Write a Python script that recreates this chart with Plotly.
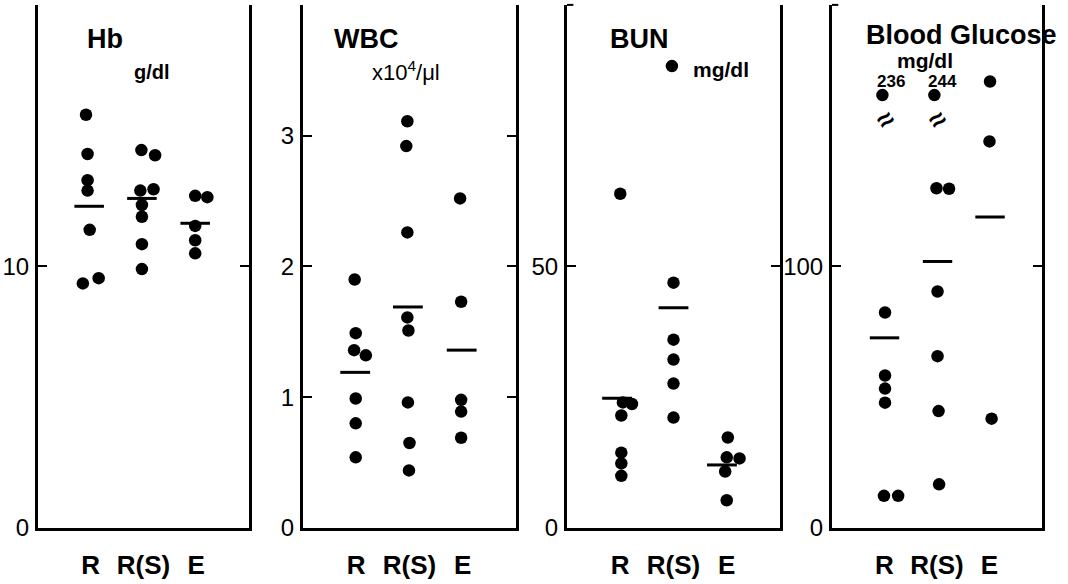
import plotly.graph_objects as go

W, H = 1068, 584

groups = ["R", "R(S)", "E"]

# ---- Hb (g/dl) ----
hb_R = [15.8, 14.3, 13.3, 12.9, 11.4, 9.35, 9.55]
hb_RS = [14.45, 14.25, 12.95, 12.9, 12.35, 11.9, 10.85, 9.9]
hb_E = [12.7, 12.65, 11.55, 11.0, 10.5]
hb_mean = [12.3, 12.6, 11.65]
hb_R_off = [-0.09, -0.06, -0.06, -0.06, -0.02, -0.15, 0.15]
hb_RS_off = [-0.04, 0.22, 0.19, -0.06, -0.03, -0.03, -0.03, -0.03]
hb_E_off = [-0.02, 0.21, -0.02, -0.02, -0.02]
hb_mean_off = [-0.03, -0.03, -0.02]

# ---- WBC (x10^4/ul) ----
wbc_R = [1.90, 1.49, 1.36, 1.32, 0.99, 0.80, 0.54]
wbc_RS = [3.11, 2.92, 2.26, 1.61, 1.51, 0.96, 0.65, 0.44]
wbc_E = [2.52, 1.73, 0.98, 0.89, 0.69]
wbc_mean = [1.19, 1.69, 1.36]
wbc_R_off = [-0.03, -0.01, -0.04, 0.18, -0.01, -0.01, -0.01]
wbc_RS_off = [-0.04, -0.06, -0.04, -0.04, -0.02, -0.03, 0.0, -0.01]
wbc_E_off = [-0.05, -0.03, -0.03, -0.03, -0.03]
wbc_mean_off = [-0.02, -0.03, -0.02]

# ---- BUN (mg/dl) ----
bun_R = [63.9, 24.0, 23.7, 21.5, 14.4, 12.35, 9.97]
bun_RS = [88.3, 46.9, 36.0, 32.2, 27.6, 21.1]
bun_E = [17.3, 13.5, 13.3, 10.8, 5.3]
bun_mean = [24.8, 42.1, 12.05]
bun_R_off = [0.0, 0.05, 0.22, 0.02, 0.02, 0.02, 0.02]
bun_RS_off = [-0.03, 0.0, 0.0, 0.0, 0.0, 0.0]
bun_E_off = [0.02, 0.0, 0.24, -0.03, 0.0]
bun_mean_off = [-0.06, 0.0, -0.09]

# ---- Blood glucose (mg/dl) ----
glu_R = [236, 82.4, 58.3, 53.3, 47.9, 12.3, 12.3]
glu_RS = [244, 129.9, 129.7, 90.4, 65.7, 44.7, 16.7]
glu_E = [170.7, 147.8, 41.8]
glu_mean = [72.7, 101.9, 118.9]
glu_R_off = [-0.04, 0.01, 0.01, 0.01, 0.01, -0.01, 0.26]
glu_RS_off = [-0.05, -0.01, 0.23, 0.01, 0.01, 0.03, 0.04]
glu_E_off = [0.01, 0.0, 0.04]
glu_mean_off = [0.0, 0.01, 0.01]
GLU_AXIS_MAX = 200
GLU_OFFSCALE_Y = 165.5   # where off-scale values are drawn (broken axis)

panels = [
    dict(title="Hb", unit="g/dl", unit_bold=True, unit_size=20, rng=[0, 20], ticks=[0, 10],
         data=[(hb_R, hb_R_off), (hb_RS, hb_RS_off), (hb_E, hb_E_off)],
         mean=hb_mean, mean_off=hb_mean_off,
         dom=(38, 249), title_xy=(105, 40), unit_xy=(152, 74), title_size=27),
    dict(title="WBC", unit="x10<sup>4</sup>/μl", unit_bold=False, unit_size=22,
         rng=[0, 4], ticks=[0, 1, 2, 3],
         data=[(wbc_R, wbc_R_off), (wbc_RS, wbc_RS_off), (wbc_E, wbc_E_off)],
         mean=wbc_mean, mean_off=wbc_mean_off,
         dom=(303, 516), title_xy=(366, 40), unit_xy=(406, 73), title_size=27),
    dict(title="BUN", unit="mg/dl", unit_bold=True, unit_size=21, rng=[0, 100], ticks=[0, 50],
         data=[(bun_R, bun_R_off), (bun_RS, bun_RS_off), (bun_E, bun_E_off)],
         mean=bun_mean, mean_off=bun_mean_off,
         dom=(567, 780), title_xy=(639, 40), unit_xy=(721, 71), title_size=27),
    dict(title="Blood Glucose", unit="mg/dl", unit_bold=True, unit_size=21,
         rng=[0, GLU_AXIS_MAX], ticks=[0, 100],
         data=[(glu_R, glu_R_off), (glu_RS, glu_RS_off), (glu_E, glu_E_off)],
         mean=glu_mean, mean_off=glu_mean_off,
         dom=(832, 1042), title_xy=(961, 36), unit_xy=(925, 62), title_size=27),
]

PLOT_TOP_PX, PLOT_BOT_PX = 5, 540
ydom = [1 - PLOT_BOT_PX / H, 1 - PLOT_TOP_PX / H]

fig = go.Figure()
annotations = []
shapes = []
FONT = "Liberation Sans, Arial, sans-serif"

for i, p in enumerate(panels):
    n = "" if i == 0 else str(i + 1)
    xa, ya = "x" + n, "y" + n
    for gi, (vals, offs) in enumerate(p["data"]):
        xs, ys = [], []
        for v, o in zip(vals, offs):
            xs.append(gi + 1 + o)
            if p["rng"][1] == GLU_AXIS_MAX and v > GLU_AXIS_MAX:
                ys.append(GLU_OFFSCALE_Y)
                annotations.append(dict(x=gi + 1 + o + 0.16, y=GLU_OFFSCALE_Y + 5.2,
                                        xref=xa, yref=ya, text=str(v), showarrow=False,
                                        xanchor="center", yanchor="middle",
                                        font=dict(family=FONT, size=17, color="black", weight="bold")))
                annotations.append(dict(x=gi + 1 + o + 0.06, y=GLU_OFFSCALE_Y - 9.5, xref=xa, yref=ya,
                                        text="≈", showarrow=False, textangle=-35,
                                        xanchor="center", yanchor="middle",
                                        font=dict(family=FONT, size=28, color="black", weight="bold")))
            else:
                ys.append(v)
        fig.add_trace(go.Scatter(x=xs, y=ys, mode="markers", xaxis=xa, yaxis=ya,
                                 marker=dict(size=12.5, color="black"),
                                 showlegend=False, hoverinfo="y"))
    mx, my = [], []
    for gi, (m, o) in enumerate(zip(p["mean"], p["mean_off"])):
        c = gi + 1 + o
        mx += [c - 0.28, c + 0.28, None]
        my += [m, m, None]
    fig.add_trace(go.Scatter(x=mx, y=my, mode="lines", xaxis=xa, yaxis=ya,
                             line=dict(color="black", width=3), showlegend=False,
                             hoverinfo="skip"))

    xd = [p["dom"][0] / W, p["dom"][1] / W]
    fig.layout["xaxis" + n] = dict(domain=xd, range=[0, 4], anchor=ya,
                                   tickmode="array", tickvals=[1, 2, 3], ticktext=groups,
                                   showline=True, linecolor="black", linewidth=3,
                                   showgrid=False, zeroline=False, ticks="",
                                   ticklabelstandoff=12,
                                   tickfont=dict(family=FONT, size=26, color="black",
                                                 weight="bold"),
                                   fixedrange=True)
    fig.layout["yaxis" + n] = dict(domain=ydom, range=p["rng"], anchor=xa,
                                   tickmode="array", tickvals=p["ticks"],
                                   ticktext=[str(t) for t in p["ticks"]],
                                   showline=True, mirror="ticks", linecolor="black",
                                   linewidth=3, ticks="inside", ticklen=9, tickwidth=2,
                                   tickcolor="black", showgrid=False, zeroline=False,
                                   ticklabelstandoff=1,
                                   tickfont=dict(family=FONT, size=24, color="black"),
                                   fixedrange=True)

    annotations.append(dict(x=p["title_xy"][0] / W, y=1 - p["title_xy"][1] / H,
                            xref="paper", yref="paper", text=p["title"], showarrow=False,
                            xanchor="center", yanchor="middle",
                            font=dict(family=FONT, size=p["title_size"], color="black",
                                      weight="bold")))
    annotations.append(dict(x=p["unit_xy"][0] / W, y=1 - p["unit_xy"][1] / H,
                            xref="paper", yref="paper", text=p["unit"], showarrow=False,
                            xanchor="center", yanchor="middle",
                            font=dict(family=FONT, size=p["unit_size"], color="black",
                                      weight="bold" if p["unit_bold"] else "normal")))

# small corner marks at the top of the left axes (panels 3 and 4)
for n in ["3", "4"]:
    shapes.append(dict(type="line", xref="x" + n, yref="y" + n + " domain",
                       x0=0, x1=0.12, y0=1, y1=1, line=dict(color="black", width=2)))

fig.update_layout(width=W, height=H, margin=dict(l=0, r=0, t=0, b=0),
                  paper_bgcolor="white", plot_bgcolor="white",
                  annotations=annotations, shapes=shapes, showlegend=False)

fig.write_html("out.html", config={"displayModeBar": False},
               post_script="document.body.style.margin='0';document.body.style.overflow='hidden';")
